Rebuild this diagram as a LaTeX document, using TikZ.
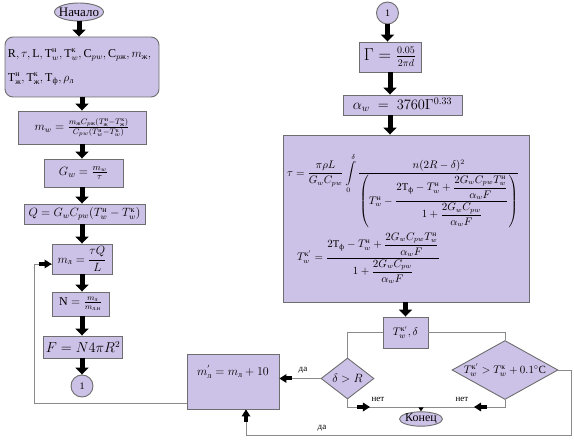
\documentclass[tikz,border=0pt]{standalone}
\usepackage{amsmath}
\usepackage{fontspec}
\setmainfont{Liberation Serif}
\usetikzlibrary{arrows.meta,positioning,shapes.geometric,calc,decorations.markings}
\definecolor{Lav}{HTML}{CCC1E6}
\definecolor{Edge}{HTML}{6E6E6E}
\definecolor{Wire}{HTML}{8A8A8A}
\newcommand{\cy}[1]{\text{#1}}
\newcommand{\fsz}[1]{\fontsize{#1}{#1}\selectfont}

\tikzset{
  box/.style={draw=Edge,fill=Lav,line width=0.9pt,inner sep=2pt,font=\fsz{11}},
  term/.style={ellipse,draw=Edge,fill=Lav,line width=0.9pt,inner ysep=0pt,inner xsep=-4pt},
  conn/.style={circle,draw=Edge,fill=Lav,line width=0.9pt,inner sep=0pt,minimum size=22pt},
  dia/.style={diamond,draw=Edge,fill=Lav,line width=0.9pt,inner sep=0pt},
  blk/.style={black,line width=5pt,-{Triangle[width=13pt,length=7pt]}},
  wire/.style={draw=Wire,line width=0.9pt},
  lbl/.style={font=\small,inner sep=1pt},
  tipmark/.style={postaction={decorate},decoration={markings,
    mark=at position #1 with {\fill[black] (-13pt,-2pt) rectangle (-6pt,2pt);
      \fill[black] (0pt,0pt) -- (-7pt,-4.5pt) -- (-7pt,4.5pt) -- cycle;}}}
}

\begin{document}
\begin{tikzpicture}[x=1pt,y=-1pt]
  \useasboundingbox (0,0) rectangle (574,441);
  % left column
  \node[term,minimum width=49pt,minimum height=18pt,font=\fsz{13}] (start) at (79,12) {Начало};
  \node[box,rounded corners=8pt,minimum width=154pt,minimum height=60pt,
    align=left,text width=148pt,font=\fsz{12}] (input) at (82,67)
    {$\mathrm{R}, \tau, \mathrm{L}, \mathrm{T}_w^{\cy{н}}, \mathrm{T}_w^{\cy{к}}, \mathrm{C}_{pw}, \mathrm{C}_{p\cy{ж}}, m_{\cy{ж}},$\\[12pt]
     $\mathrm{T}_{\cy{ж}}^{\cy{н}}, \mathrm{T}_{\cy{ж}}^{\cy{к}}, \mathrm{T}_{\cy{ф}}, \rho_{\cy{л}}$};
  \node[box,minimum width=128pt,minimum height=33pt,font=\fsz{12}] (mw) at (82,127.5)
    {$m_w = \frac{m_{\cy{ж}} C_{p\cy{ж}} (T_{\cy{ж}}^{\cy{н}} - T_{\cy{ж}}^{\cy{к}})}{C_{pw} (T_w^{\cy{н}} - T_w^{\cy{к}})}$};
  \node[box,minimum width=79pt,minimum height=28pt,font=\fsz{13}] (gw) at (83.5,173)
    {$G_w = \frac{m_w}{\tau}$};
  \node[box,minimum width=121pt,minimum height=20pt,font=\fsz{11.5}] (qq) at (84.5,214)
    {$Q = G_w C_{pw}(T_w^{\cy{н}} - T_w^{\cy{к}})$};
  \node[box,minimum width=60pt,minimum height=30pt,font=\fsz{11.5}] (ml) at (82,259)
    {$m_{\cy{л}} = \dfrac{\tau Q}{L}$};
  \node[box,minimum width=57pt,minimum height=24pt,font=\fsz{12}] (nn) at (80.5,304)
    {$\mathrm{N} = \frac{m_{\cy{л}}}{m_{\cy{л.н}}}$};
  \node[box,minimum width=70pt,minimum height=22pt,font=\fsz{13.5}] (ff) at (83,347)
    {$F = N4\pi R^2$};
  \node[conn] (c1a) at (82,386) {1};

  \draw[blk] (start.south) -- (start.south |- input.north);
  \draw[blk] (input.south) -- (input.south |- mw.north);
  \draw[blk] (mw.south) -- (mw.south |- gw.north);
  \draw[blk] (mw.south |- gw.south) -- (mw.south |- qq.north);
  \draw[blk] (mw.south |- qq.south) -- (mw.south |- ml.north);
  \draw[blk] (ml.south) -- (ml.south |- nn.north);
  \draw[blk] (ml.south |- nn.south) -- (ml.south |- ff.north);
  \draw[blk] (ml.south |- ff.south) -- (ml.south |- c1a.north);

  % right column
  \node[conn] (c1b) at (387.5,13) {1};
  \node[box,minimum width=62pt,minimum height=30pt,font=\fsz{16}] (gam) at (390,57)
    {$\Gamma = \frac{\text{\fsz{10}$0.05$}}{\text{\fsz{10}$2\pi d$}}$};
  \node[box,minimum width=119pt,minimum height=20pt,font=\fsz{14}] (alw) at (402.5,105)
    {$\alpha_w \;=\; 3760\Gamma^{0.33}$};
  \node[box,minimum width=246pt,minimum height=167pt,align=left,text width=238pt,font=\fsz{10.5}] (tau) at (406,218.5)
    {$\displaystyle \tau = \frac{\pi\rho L}{G_w C_{pw}} \int\limits_0^{\delta}
      \frac{n(2R-\delta)^2}{\left(T_w^{\cy{н}} - \dfrac{2\mathrm{T}_{\cy{ф}} - T_w^{\cy{н}} + \dfrac{2G_wC_{pw}T_w^{\cy{н}}}{\alpha_w F}}{1 + \dfrac{2G_wC_{pw}}{\alpha_w F}}\right)}$\\[4pt]
     \hspace*{10pt}$\displaystyle T_w^{\cy{к}'} = \frac{2\mathrm{T}_{\cy{ф}} - T_w^{\cy{н}} + \dfrac{2G_wC_{pw}T_w^{\cy{н}}}{\alpha_w F}}{1 + \dfrac{2G_wC_{pw}}{\alpha_w F}}$};
  \node[box,minimum width=45pt,minimum height=31pt] (tk) at (405.5,332.5)
    {$T_w^{\cy{к}'}, \delta$};
  \node[dia,minimum width=53pt,minimum height=41pt,label={[font=\fsz{12}]center:{$\delta > R$}}] (d1) at (347.5,378.5) {};
  \node[dia,minimum width=106pt,minimum height=59pt,
    label={[font=\fsz{11}]center:{$T_w^{\cy{к}'} > T_w^{\cy{к}} + 0.1^{\circ}\mathrm{C}$}}] (d2) at (505,370) {};
  \node[box,minimum width=92pt,inner sep=4pt,text height=18pt,text depth=29pt,font=\fsz{12}] (mp) at (233,381.5)
    {$m^{'}_{\cy{л}} = m_{\cy{л}} + 10$};
  \node[term,minimum width=43pt,minimum height=14pt,font=\fsz{12}] (fin) at (421,419) {Конец};
  \coordinate (join) at (421,407);

  \draw[blk] (c1b.south) -- (c1b.south |- gam.north);
  \draw[blk] (gam.south) -- (gam.south |- alw.north);
  \draw[blk] (gam.south |- alw.south) -- (gam.south |- tau.north);
  \draw[blk] (tk.north |- tau.south) -- (tk.north);

  \draw[wire] (tk.west) -| (d1.north);
  \draw[wire] (tk.east) -| (d2.north);
  \draw[wire,tipmark=1] (d1.west) -- (d1.west -| mp.east);
  \draw[wire,tipmark=30pt] (d1.south) |- (join);
  \draw[wire,tipmark=38pt] (d2.south) |- (join);
  \draw[wire,-{Triangle[width=5pt,length=4pt,color=black]}] (join) -- (fin.north);
  \draw[wire,tipmark=1] (d2.east) -- ++(13,0) -- ++(0,65) -| ($(mp.south)+(13,0)$);
  \draw[wire,tipmark=1] ($(mp.south west)+(0,-6)$) -- ++(-152,0) |- ($(ml.west)+(0,5)$);

  \node[lbl] (da1) at (303,370) {да};
  \node[lbl] (net1) at (378,399) {нет};
  \node[lbl] (net2) at (462,399) {нет};
  \node[lbl] (da2) at (322,428) {да};
\end{tikzpicture}
\end{document}
